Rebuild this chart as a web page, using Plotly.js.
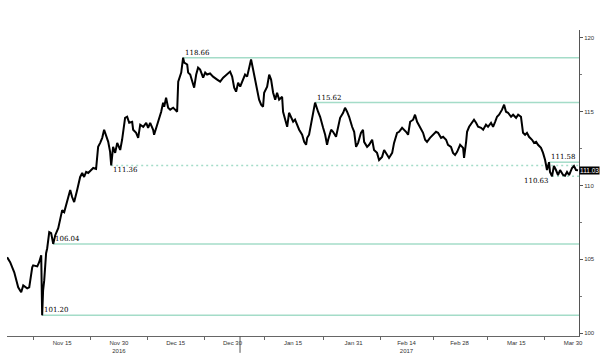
<!DOCTYPE html>
<html>
<head>
<meta charset="utf-8">
<script src="https://cdn.plot.ly/plotly-3.0.1.min.js"></script>
<style>html,body{margin:0;padding:0;background:#fff;}#chart{width:600px;height:354px;}</style>
</head>
<body>
<div id="chart"></div>
<script>
// USD/JPY intraday, Nov 2016 - Mar 2017
const dates = [
"2016-10-31 11:00","2016-11-01 06:00","2016-11-02 08:00","2016-11-03 03:00","2016-11-03 09:00","2016-11-04 04:00","2016-11-04 17:00","2016-11-05 18:00","2016-11-06 07:00","2016-11-07 02:00",
"2016-11-07 08:00","2016-11-08 10:00","2016-11-08 22:00","2016-11-09 11:00","2016-11-09 17:00","2016-11-09 23:00","2016-11-10 06:00","2016-11-10 18:00","2016-11-11 01:00","2016-11-11 14:00",
"2016-11-12 02:00","2016-11-12 15:00","2016-11-13 04:00","2016-11-13 23:00","2016-11-14 11:00","2016-11-15 00:00","2016-11-15 13:00","2016-11-16 08:00","2016-11-17 03:00","2016-11-17 15:00",
"2016-11-18 04:00","2016-11-18 23:00","2016-11-19 18:00","2016-11-20 07:00","2016-11-20 19:00","2016-11-21 08:00","2016-11-21 21:00","2016-11-22 16:00","2016-11-23 05:00","2016-11-23 23:00",
"2016-11-24 06:00","2016-11-24 12:00","2016-11-25 01:00","2016-11-25 14:00","2016-11-26 02:00","2016-11-26 15:00","2016-11-27 04:00","2016-11-27 16:00","2016-11-27 23:00","2016-11-28 11:00",
"2016-11-29 00:00","2016-11-29 13:00","2016-11-30 08:00","2016-11-30 20:00","2016-12-01 03:00","2016-12-01 15:00","2016-12-02 04:00","2016-12-02 17:00","2016-12-03 12:00","2016-12-03 18:00",
"2016-12-04 13:00","2016-12-05 02:00","2016-12-05 15:00","2016-12-06 10:00","2016-12-07 05:00","2016-12-07 17:00","2016-12-08 06:00","2016-12-09 01:00","2016-12-09 07:00","2016-12-10 02:00",
"2016-12-10 09:00","2016-12-11 04:00","2016-12-11 16:00","2016-12-11 23:00","2016-12-12 11:00","2016-12-13 00:00","2016-12-13 13:00","2016-12-14 08:00","2016-12-14 20:00","2016-12-15 09:00",
"2016-12-15 16:00","2016-12-16 11:00","2016-12-16 23:00","2016-12-17 06:00","2016-12-18 01:00","2016-12-18 07:00","2016-12-18 20:00","2016-12-19 15:00","2016-12-19 21:00","2016-12-20 10:00",
"2016-12-20 22:00","2016-12-21 11:00","2016-12-22 06:00","2016-12-22 19:00","2016-12-23 07:00","2016-12-24 02:00","2016-12-24 21:00","2016-12-25 23:00","2016-12-26 18:00","2016-12-27 13:00",
"2016-12-28 14:00","2016-12-29 09:00","2016-12-29 22:00","2016-12-30 11:00","2016-12-30 23:00","2016-12-31 12:00","2017-01-01 01:00","2017-01-01 13:00","2017-01-02 08:00","2017-01-02 21:00",
"2017-01-03 10:00","2017-01-03 22:00","2017-01-04 11:00","2017-01-04 23:00","2017-01-05 12:00","2017-01-06 01:00","2017-01-06 14:00","2017-01-07 02:00","2017-01-07 09:00","2017-01-08 04:00",
"2017-01-08 17:00","2017-01-09 05:00","2017-01-09 18:00","2017-01-10 07:00","2017-01-10 19:00","2017-01-11 08:00","2017-01-12 03:00","2017-01-12 09:00","2017-01-13 04:00","2017-01-13 11:00",
"2017-01-13 23:00","2017-01-14 12:00","2017-01-15 01:00","2017-01-15 13:00","2017-01-16 02:00","2017-01-16 15:00","2017-01-17 10:00","2017-01-17 23:00","2017-01-18 11:00","2017-01-18 18:00",
"2017-01-19 06:00","2017-01-20 01:00","2017-01-20 07:00","2017-01-20 20:00","2017-01-21 15:00","2017-01-22 04:00","2017-01-22 23:00","2017-01-23 12:00","2017-01-24 00:00","2017-01-24 07:00",
"2017-01-25 02:00","2017-01-25 14:00","2017-01-26 09:00","2017-01-26 22:00","2017-01-27 11:00","2017-01-28 06:00","2017-01-28 18:00","2017-01-29 07:00","2017-01-29 20:00","2017-01-30 15:00",
"2017-01-31 04:00","2017-01-31 16:00","2017-02-01 05:00","2017-02-01 23:00","2017-02-02 12:00","2017-02-02 19:00","2017-02-03 14:00","2017-02-04 03:00","2017-02-04 22:00","2017-02-05 10:00",
"2017-02-06 05:00","2017-02-06 18:00","2017-02-07 13:00","2017-02-08 02:00","2017-02-08 21:00","2017-02-09 09:00","2017-02-10 05:00","2017-02-10 17:00","2017-02-11 12:00","2017-02-12 01:00",
"2017-02-12 20:00","2017-02-13 09:00","2017-02-13 21:00","2017-02-14 10:00","2017-02-14 23:00","2017-02-15 18:00","2017-02-16 06:00","2017-02-16 19:00","2017-02-17 14:00","2017-02-18 09:00",
"2017-02-18 22:00","2017-02-19 10:00","2017-02-20 05:00","2017-02-21 00:00","2017-02-21 19:00","2017-02-22 08:00","2017-02-23 03:00","2017-02-23 16:00","2017-02-24 11:00","2017-02-24 23:00",
"2017-02-25 18:00","2017-02-26 07:00","2017-02-26 20:00","2017-02-27 09:00","2017-02-28 04:00","2017-02-28 23:00","2017-03-01 05:00","2017-03-01 18:00","2017-03-02 00:00","2017-03-02 13:00",
"2017-03-03 08:00","2017-03-03 20:00","2017-03-04 09:00","2017-03-04 22:00","2017-03-05 17:00","2017-03-06 06:00","2017-03-07 00:00","2017-03-07 13:00","2017-03-08 08:00","2017-03-08 21:00",
"2017-03-09 10:00","2017-03-09 22:00","2017-03-10 11:00","2017-03-11 06:00","2017-03-11 19:00","2017-03-12 07:00","2017-03-12 20:00","2017-03-13 15:00","2017-03-14 04:00","2017-03-14 23:00",
"2017-03-15 12:00","2017-03-16 06:00","2017-03-16 19:00","2017-03-17 08:00","2017-03-17 20:00","2017-03-18 09:00","2017-03-19 04:00","2017-03-19 17:00","2017-03-20 06:00","2017-03-20 18:00",
"2017-03-21 13:00","2017-03-22 02:00","2017-03-22 15:00","2017-03-23 03:00","2017-03-23 16:00","2017-03-23 22:00","2017-03-24 11:00","2017-03-24 23:00","2017-03-25 12:00","2017-03-26 01:00",
"2017-03-26 14:00","2017-03-27 09:00","2017-03-27 21:00","2017-03-28 10:00","2017-03-28 23:00","2017-03-29 18:00","2017-03-30 06:00","2017-03-30 19:00","2017-03-31 08:00"
];
const usdjpy = [
105.14,104.80,104.12,103.37,103.10,102.76,103.23,103.03,103.10,104.46,
104.59,104.52,104.80,105.27,101.20,102.89,103.57,105.41,105.75,106.84,
106.77,106.04,106.63,107.11,107.65,108.33,108.20,109.01,109.69,109.22,
108.88,109.69,110.58,110.85,110.58,110.92,110.85,111.05,111.19,111.12,
112.07,112.62,112.89,113.23,113.78,113.30,112.96,112.28,111.36,112.62,
112.21,112.89,112.41,113.10,113.78,114.59,114.66,114.25,114.32,113.78,
113.57,113.23,114.12,113.98,114.25,113.91,114.25,113.78,113.44,114.12,
114.46,115.00,115.61,115.34,115.95,115.27,115.14,115.27,115.14,115.00,
117.04,117.65,118.66,118.33,118.20,117.65,117.52,116.84,116.63,117.52,
117.99,117.86,117.31,117.65,117.52,117.59,117.38,117.18,117.04,117.31,
117.52,117.72,117.38,116.63,116.36,116.97,116.70,117.04,117.52,117.38,
117.99,118.54,117.86,117.18,116.50,115.82,115.48,115.34,116.29,116.70,
117.52,117.18,116.29,115.82,116.29,115.82,116.02,115.00,114.25,113.98,
114.93,114.66,114.32,114.46,114.12,113.78,113.44,112.96,112.76,113.23,
113.44,114.59,114.93,115.62,115.00,114.66,113.91,113.44,112.76,113.10,
113.78,113.64,113.30,113.91,114.59,114.93,115.27,115.00,114.66,113.98,
113.64,112.62,112.89,113.57,113.78,112.96,112.62,112.76,113.10,112.41,
112.21,111.73,111.94,112.41,112.07,111.87,112.21,112.89,113.57,113.64,
113.91,113.78,113.64,113.44,114.32,114.46,114.80,114.32,113.98,113.57,
113.10,112.96,113.23,113.44,113.64,113.57,113.23,113.30,113.10,112.76,
112.62,112.21,112.07,112.28,112.76,112.55,111.87,112.96,113.64,113.98,
114.32,114.46,114.25,113.98,113.91,113.78,114.12,113.98,114.25,113.98,
114.32,114.66,114.80,115.14,115.48,115.00,114.93,114.66,114.80,114.59,
114.80,114.66,113.57,113.44,113.57,113.30,113.10,112.89,112.96,112.76,
112.55,112.21,111.73,111.05,111.58,110.92,110.63,111.33,111.05,110.71,
111.05,110.71,110.66,110.92,110.71,111.19,111.33,111.05,111.03
];

// Marked levels: value, date where the level starts, label text
const levelValues = [118.66, 115.62, 111.36, 106.04, 101.20, 111.58, 110.63];
const levelStarts = ["2016-12-16 23:00","2017-01-20 20:00","2016-11-27 23:00","2016-11-12 15:00","2016-11-09 17:00","2017-03-23 16:00","2017-03-24 11:00"];
const levelLabels = ["118.66","115.62","111.36","106.04","101.20","111.58","110.63"];
const lastPrice = "111.03";

// axis ticks
const xTickVals = ["2016-11-15","2016-11-30","2016-12-15","2016-12-30","2017-01-15","2017-01-31","2017-02-14","2017-02-28","2017-03-15","2017-03-30"];
const xTickText = ["Nov 15","Nov 30<br>2016","Dec 15","Dec 30","Jan 15","Jan 31","Feb 14<br>2017","Feb 28","Mar 15","Mar 30"];
const xMinorVals = ["2016-11-07 12:00","2016-11-22 12:00","2016-12-07 12:00","2016-12-22 12:00","2017-01-07 12:00","2017-01-23 00:00","2017-02-07 00:00","2017-02-21 00:00","2017-03-07 12:00","2017-03-22 12:00"];
const yTickVals = [100, 105, 110, 115, 120];
const yMinorVals = [102.5, 107.5, 112.5, 117.5];
const yearBreak = "2017-01-01 00:00";

// styles (kept apart from data)
const levelDash = ["solid","solid","dot","solid","solid","solid","dot"];
const labelPlace = ["above","above","below","above","above","above","belowleft"];
const GREEN = "#a4dcc8";
const xEnd = "2017-03-31 14:00";

const shapes = [];
const annotations = [];
levelValues.forEach((v, i) => {
  shapes.push({type: "line", xref: "x", yref: "y", x0: levelStarts[i], x1: xEnd, y0: v, y1: v,
    line: {color: GREEN, width: 1.5, dash: levelDash[i] === "dot" ? "2px,3px" : "solid"}, layer: "below"});
  const p = labelPlace[i];
  annotations.push({x: levelStarts[i], y: v, xref: "x", yref: "y", text: levelLabels[i], showarrow: false,
    xanchor: p === "belowleft" ? "right" : "left", yanchor: p === "above" ? "bottom" : "top",
    xshift: p === "belowleft" ? -1 : 0, yshift: p === "above" ? -1 : 1,
    font: {family: "DejaVu Serif", size: 7, color: "#000"}});
});
shapes.push({type: "line", xref: "x", yref: "paper", x0: yearBreak, x1: yearBreak, y0: 0, y1: -0.055,
  line: {color: "#555", width: 1}});
annotations.push({x: 1, xref: "paper", y: usdjpy[usdjpy.length - 1], yref: "y", text: lastPrice, showarrow: false,
  xanchor: "left", yanchor: "middle", xshift: 0, bgcolor: "#000", borderpad: 0,
  font: {family: "Liberation Sans", size: 6.5, color: "#fff"}});

const trace = {x: dates, y: usdjpy, type: "scatter", mode: "lines",
  line: {color: "#000", width: 2}, hoverinfo: "skip"};

const layout = {
  width: 600, height: 354,
  margin: {l: 7, r: 21, t: 30, b: 18, pad: 0},
  paper_bgcolor: "#fff", plot_bgcolor: "#fff",
  showlegend: false,
  xaxis: {type: "date", range: ["2016-10-31 10:00", xEnd], showgrid: false, zeroline: false,
    showline: true, linecolor: "#666", linewidth: 1,
    tickmode: "array", tickvals: xTickVals, ticktext: xTickText, ticks: "outside", ticklen: 1, tickcolor: "rgba(0,0,0,0)",
    tickfont: {family: "Liberation Sans", size: 6, color: "#333"},
    minor: {tickmode: "array", tickvals: xMinorVals, ticks: "outside", ticklen: 3, tickcolor: "#666", showgrid: false},
    automargin: false, fixedrange: true},
  yaxis: {range: [99.8, 120.54], side: "right", showgrid: false, zeroline: false,
    showline: true, linecolor: "#555", linewidth: 1,
    tickmode: "array", tickvals: yTickVals, ticks: "outside", ticklen: 3, tickcolor: "#555",
    tickfont: {family: "Liberation Sans", size: 6, color: "#333"},
    minor: {tickmode: "array", tickvals: yMinorVals, ticks: "outside", ticklen: 2, tickcolor: "#777", showgrid: false},
    automargin: false, fixedrange: true},
  shapes: shapes,
  annotations: annotations
};

Plotly.newPlot("chart", [trace], layout, {staticPlot: true, displayModeBar: false});
</script>
</body>
</html>
